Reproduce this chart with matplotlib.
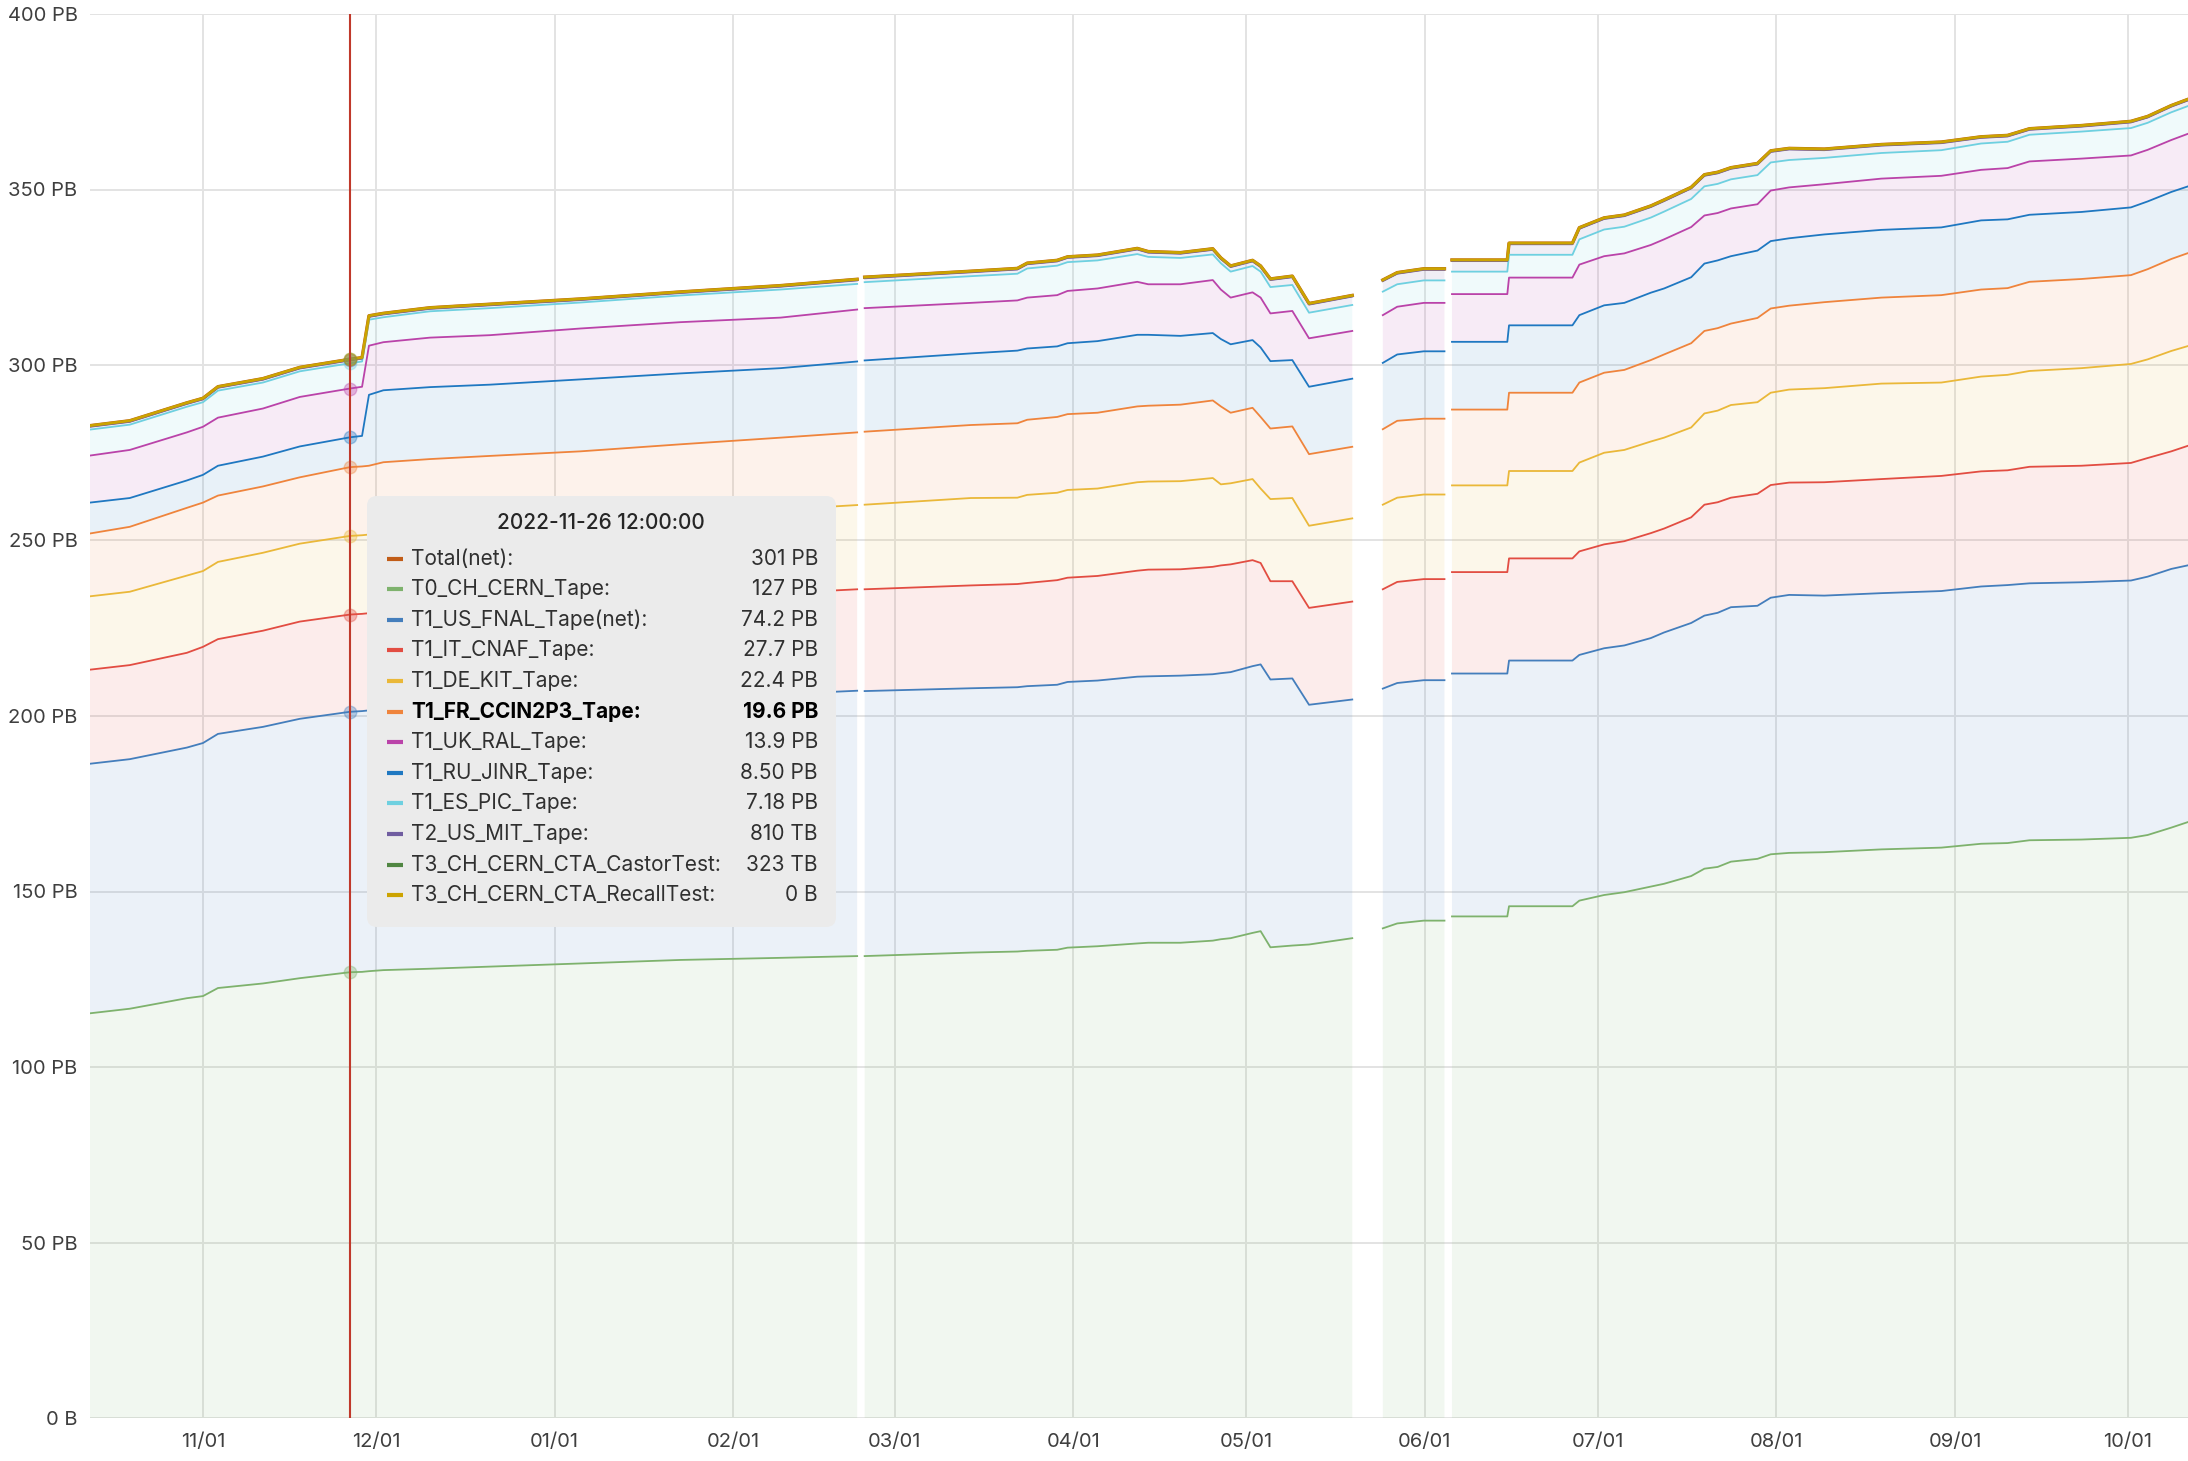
import numpy as np
import pandas as pd
import matplotlib
matplotlib.use('Agg')
import matplotlib.pyplot as plt
import matplotlib.dates as mdates
from matplotlib.patches import FancyBboxPatch

plt.rcParams['font.family'] = ['Inter', 'DejaVu Sans']

nan = np.nan

# days since 2022-11-01 ; nan rows are the holes in the data
day = [-19.6, -12.7, -2.8, 0.0, 2.6, 10.4, 16.8, 25.5, 27.6, 28.8, 31.3, 39.4, 49.8, 65.5, 82.8, 100.2, 113.5, 114.1,
       114.8, 133.2, 141.3, 143.0, 148.2, 150.0, 155.2, 162.1, 164.0, 169.6, 175.2, 176.6, 178.3, 182.1, 183.5, 185.2,
       189.0, 191.9, 199.4, 202.0,
       204.7, 207.2, 211.8, 215.4, 216.1,
       216.7, 226.3, 226.6, 237.6, 238.8, 243.1, 246.6, 251.2, 253.5, 258.2, 260.5, 262.8, 265.1, 269.7, 272.0, 275.2,
       281.3, 291.2, 301.6, 308.5, 313.1, 316.9, 325.9, 334.5, 337.4, 341.5, 344.6]

# PB per site (stack order, bottom to top)
t0_cern = [115.3, 116.6, 119.6, 120.2, 122.5, 123.8, 125.3, 127.0, 127.1, 127.3, 127.6, 128.0, 128.6, 129.5, 130.5, 131.1, 131.6, nan,
           131.6, 132.6, 132.9, 133.1, 133.4, 134.0, 134.4, 135.2, 135.4, 135.4, 136.0, 136.4, 136.7, 138.2, 138.7, 134.1,
           134.6, 134.9, 136.7, nan,
           139.5, 140.9, 141.7, 141.7, nan,
           142.9, 142.9, 145.8, 145.8, 147.4, 149.0, 149.8, 151.4, 152.2, 154.4, 156.5, 157.0, 158.5, 159.3, 160.6, 161.0,
           161.2, 162.0, 162.5, 163.6, 163.8, 164.6, 164.8, 165.3, 166.1, 168.2, 169.9]
us_fnal = [71.1, 71.1, 71.4, 72.1, 72.4, 73.1, 73.9, 74.2, 74.3, 74.3, 74.7, 74.7, 74.5, 74.2, 74.5, 75.1, 75.6, nan,
           75.5, 75.3, 75.3, 75.4, 75.5, 75.7, 75.7, 76.0, 75.9, 76.1, 75.9, 75.8, 75.8, 76.0, 76.0, 76.3,
           76.1, 68.3, 68.0, nan,
           68.3, 68.5, 68.5, 68.5, nan,
           69.2, 69.2, 70.0, 70.0, 70.0, 70.3, 70.3, 70.8, 71.6, 72.1, 72.1, 72.4, 72.5, 72.1, 73.1, 73.5,
           73.1, 73.0, 73.1, 73.3, 73.5, 73.2, 73.3, 73.3, 73.6, 73.7, 73.1]
it_cnaf = [26.8, 26.8, 27.0, 27.4, 27.0, 27.4, 27.7, 27.7, 27.7, 27.7, 27.8, 28.0, 28.2, 28.4, 28.6, 28.8, 28.9, nan,
           29.0, 29.3, 29.4, 29.4, 29.8, 29.7, 29.8, 30.2, 30.4, 30.3, 30.6, 30.7, 30.7, 30.2, 28.9, 28.0,
           27.7, 27.6, 27.9, nan,
           28.3, 28.8, 28.8, 28.8, nan,
           28.9, 28.9, 29.1, 29.1, 29.5, 29.6, 29.7, 29.9, 29.6, 30.1, 31.6, 31.5, 31.2, 31.9, 32.1, 32.0,
           32.3, 32.5, 32.8, 32.8, 32.7, 33.2, 33.2, 33.5, 33.8, 33.5, 34.1]
de_kit = [20.9, 20.9, 22.0, 21.6, 22.0, 22.2, 22.2, 22.4, 22.4, 22.4, 22.5, 22.7, 22.9, 23.2, 23.5, 23.8, 24.0, nan,
          24.1, 24.9, 24.6, 25.1, 24.9, 25.0, 24.9, 25.2, 25.1, 25.1, 25.3, 23.1, 23.1, 23.1, 21.2, 23.4,
          23.7, 23.4, 23.7, nan,
          24.1, 24.0, 24.1, 24.1, nan,
          24.7, 24.7, 24.9, 24.9, 25.3, 26.1, 26.0, 26.1, 25.9, 25.6, 26.0, 26.1, 26.4, 26.1, 26.3, 26.5,
          26.8, 27.2, 26.6, 27.0, 27.2, 27.3, 27.8, 28.2, 28.1, 28.6, 28.4]
fr_ccin2p3 = [17.9, 18.5, 19.3, 19.5, 18.9, 18.9, 18.9, 19.6, 19.6, 19.6, 19.7, 19.8, 19.9, 20.1, 20.3, 20.5, 20.7, nan,
              20.8, 20.8, 21.2, 21.4, 21.6, 21.6, 21.6, 21.6, 21.6, 21.8, 22.1, 22.2, 20.1, 20.3, 20.4, 20.1,
              20.4, 20.4, 20.4, nan,
              21.5, 21.9, 21.6, 21.6, nan,
              21.6, 21.6, 22.3, 22.3, 22.8, 22.8, 22.8, 23.2, 23.7, 24.0, 23.5, 23.5, 23.2, 24.0, 24.0, 23.9,
              24.5, 24.5, 24.9, 24.8, 24.7, 25.4, 25.4, 25.3, 25.7, 26.2, 26.5]
ru_jinr = [8.8, 8.2, 7.8, 7.9, 8.5, 8.5, 8.8, 8.5, 8.7, 20.2, 20.5, 20.5, 20.3, 20.5, 20.2, 19.8, 20.2, nan,
           20.3, 20.4, 20.7, 20.3, 20.1, 20.2, 20.4, 20.4, 20.2, 19.6, 19.2, 19.2, 19.5, 19.3, 19.8, 19.2,
           18.9, 19.2, 19.4, nan,
           18.9, 18.9, 19.2, 19.2, nan,
           19.3, 19.3, 19.2, 19.2, 19.2, 19.2, 19.1, 19.2, 18.8, 18.8, 19.2, 19.3, 19.2, 19.2, 19.2, 19.2,
           19.3, 19.3, 19.3, 19.7, 19.6, 19.1, 19.1, 19.3, 19.3, 19.1, 19.0]
uk_ral = [13.4, 13.7, 13.7, 13.7, 13.7, 13.7, 14.1, 13.9, 14.0, 14.0, 13.7, 14.1, 14.1, 14.5, 14.6, 14.4, 14.8, nan,
          14.9, 14.4, 14.3, 14.5, 14.6, 14.9, 15.0, 15.1, 14.4, 14.7, 15.1, 14.1, 13.3, 13.6, 14.2, 13.6,
          14.0, 13.8, 13.6, nan,
          13.6, 13.6, 13.8, 13.8, nan,
          13.6, 13.6, 13.6, 13.6, 14.4, 14.0, 14.1, 13.6, 14.0, 14.3, 13.7, 13.5, 13.6, 13.2, 14.4, 14.5,
          14.3, 14.6, 14.7, 14.4, 14.6, 15.2, 15.2, 14.8, 14.7, 14.8, 15.0]
es_pic = [7.4, 7.2, 7.3, 7.0, 7.7, 7.4, 7.3, 7.2, 7.2, 7.4, 7.1, 7.5, 7.7, 7.4, 7.6, 8.0, 7.3, nan,
          7.4, 7.6, 7.6, 8.3, 8.4, 8.2, 8.0, 7.9, 7.8, 7.5, 7.3, 7.5, 7.4, 7.5, 7.4, 7.5,
          7.4, 7.3, 7.4, nan,
          6.7, 6.4, 6.4, 6.4, nan,
          6.4, 6.4, 6.5, 6.5, 7.2, 7.6, 7.6, 7.8, 7.9, 8.0, 8.3, 8.3, 8.3, 8.3, 8.0, 7.8,
          7.5, 7.3, 7.3, 7.5, 7.5, 7.6, 7.7, 7.8, 7.7, 7.9, 7.9]
us_mit = [0.8, 0.8, 0.8, 0.8, 0.8, 0.8, 0.8, 0.81, 0.8, 0.8, 0.8, 0.7, 0.8, 0.7, 0.7, 0.8, 1.0, nan,
          1.1, 1.1, 1.2, 1.2, 1.2, 1.2, 1.2, 1.3, 1.2, 1.2, 1.3, 1.2, 1.3, 1.3, 1.3, 2.0,
          2.2, 2.3, 2.4, nan,
          3.0, 3.0, 3.0, 3.0, nan,
          3.0, 3.0, 3.0, 3.0, 3.0, 3.0, 3.0, 3.0, 3.0, 3.0, 3.0, 3.0, 3.0, 3.0, 3.0, 3.0,
          2.2, 2.1, 2.0, 1.6, 1.5, 1.4, 1.4, 1.6, 1.5, 1.6, 1.6]
castor_test = [0.323] * 17 + [nan] + [0.323] * 19 + [nan] + [0.323] * 4 + [nan] + [0.323] * 27
recall_test = [0.0] * 17 + [nan] + [0.0] * 19 + [nan] + [0.0] * 4 + [nan] + [0.0] * 27

series = [t0_cern, us_fnal, it_cnaf, de_kit, fr_ccin2p3, ru_jinr, uk_ral, es_pic, us_mit, castor_test, recall_test]
colors = ['#7EB26D', '#447EBC', '#E24D42', '#EAB839', '#EF843C', '#1F78C1', '#BA43A9', '#6ED0E0', '#705DA0',
          '#508642', '#CCA300']
total_color = '#C15C17'

# tooltip text at the hovered time
hover_time = '2022-11-26 12:00:00'
tip_names = ['Total(net):', 'T0_CH_CERN_Tape:', 'T1_US_FNAL_Tape(net):', 'T1_IT_CNAF_Tape:', 'T1_DE_KIT_Tape:',
             'T1_FR_CCIN2P3_Tape:', 'T1_UK_RAL_Tape:', 'T1_RU_JINR_Tape:', 'T1_ES_PIC_Tape:', 'T2_US_MIT_Tape:',
             'T3_CH_CERN_CTA_CastorTest:', 'T3_CH_CERN_CTA_RecallTest:']
tip_values = ['301 PB', '127 PB', '74.2 PB', '27.7 PB', '22.4 PB', '19.6 PB', '13.9 PB', '8.50 PB', '7.18 PB',
              '810 TB', '323 TB', '0 B']
tip_colors = [total_color, '#7EB26D', '#447EBC', '#E24D42', '#EAB839', '#EF843C', '#BA43A9', '#1F78C1', '#6ED0E0',
              '#705DA0', '#508642', '#CCA300']
tip_bold = 'T1_FR_CCIN2P3_Tape:'

start = pd.Timestamp('2022-11-01')
dates = start + pd.to_timedelta(np.array(day), unit='D')
vals = np.array(series, dtype=float)
stack = np.cumsum(vals, axis=0)
total = stack[-1]

fig = plt.figure(figsize=(21.88, 14.61), dpi=100)
ax = fig.add_axes([90 / 2188, 1 - 1418 / 1461, 1 - 90 / 2188, (1418 - 14) / 1461])

lower = np.zeros(len(day))
lower[np.isnan(stack[0])] = nan
for i in range(len(series)):
    ax.fill_between(dates, lower, stack[i], color=colors[i], alpha=0.1, linewidth=0)
    lower = stack[i]

ax.plot(dates, total, color=total_color, lw=2.4, zorder=3)
for i in range(len(series)):
    lw = 1.3
    if i == len(series) - 1:
        lw = 2.0
    ax.plot(dates, stack[i], color=colors[i], lw=lw, zorder=3 + i * 0.01)

# hover line and dots
hover = pd.Timestamp(hover_time)
ax.axvline(hover, color='#C0392B', lw=1.5, zorder=5)
hi = day.index(25.5)
for i in range(len(series)):
    ax.plot([dates[hi]], [stack[i][hi]], 'o', ms=9, color=colors[i], alpha=0.35, zorder=4)

ax.set_ylim(0, 400)
ax.set_xlim(start - pd.Timedelta(days=19.6), start + pd.Timedelta(days=344.4))
ax.set_yticks(np.arange(0, 401, 50))
ax.set_yticklabels(['0 B'] + ['%d PB' % v for v in range(50, 401, 50)])
ax.xaxis.set_major_locator(mdates.MonthLocator())
ax.xaxis.set_major_formatter(mdates.DateFormatter('%m/%d'))
ax.grid(True, color='#e3e3e3', lw=1.4)
ax.set_axisbelow(True)
for s in ax.spines.values():
    s.set_visible(False)
ax.tick_params(length=0, labelsize=14.5, colors='#3f3f3f')
ax.tick_params(axis='y', pad=9)
ax.tick_params(axis='x', pad=11)

# tooltip box
tip = fig.add_axes([367 / 2188, 1 - 927 / 1461, 469 / 2188, 431 / 1461])
tip.set_xlim(0, 469)
tip.set_ylim(431, 0)
tip.axis('off')
tip.add_patch(FancyBboxPatch((0, 0), 469, 431, boxstyle='round,pad=0,rounding_size=10',
                             fc='#ebebeb', ec='none'))
tip.text(234, 27, hover_time, ha='center', va='center', fontsize=15, fontweight='medium', color='#262626')
for k in range(len(tip_names)):
    y = 62.6 + k * 30.6
    w = 'normal'
    c = '#303030'
    if tip_names[k] == tip_bold:
        w = 'bold'
        c = '#000000'
    tip.plot([20, 36], [y, y], color=tip_colors[k], lw=3, solid_capstyle='butt')
    tip.text(44, y, tip_names[k], ha='left', va='center', fontsize=15, fontweight=w, color=c)
    tip.text(451, y, tip_values[k], ha='right', va='center', fontsize=15, fontweight=w, color=c)

fig.savefig('out.png', dpi=100)
